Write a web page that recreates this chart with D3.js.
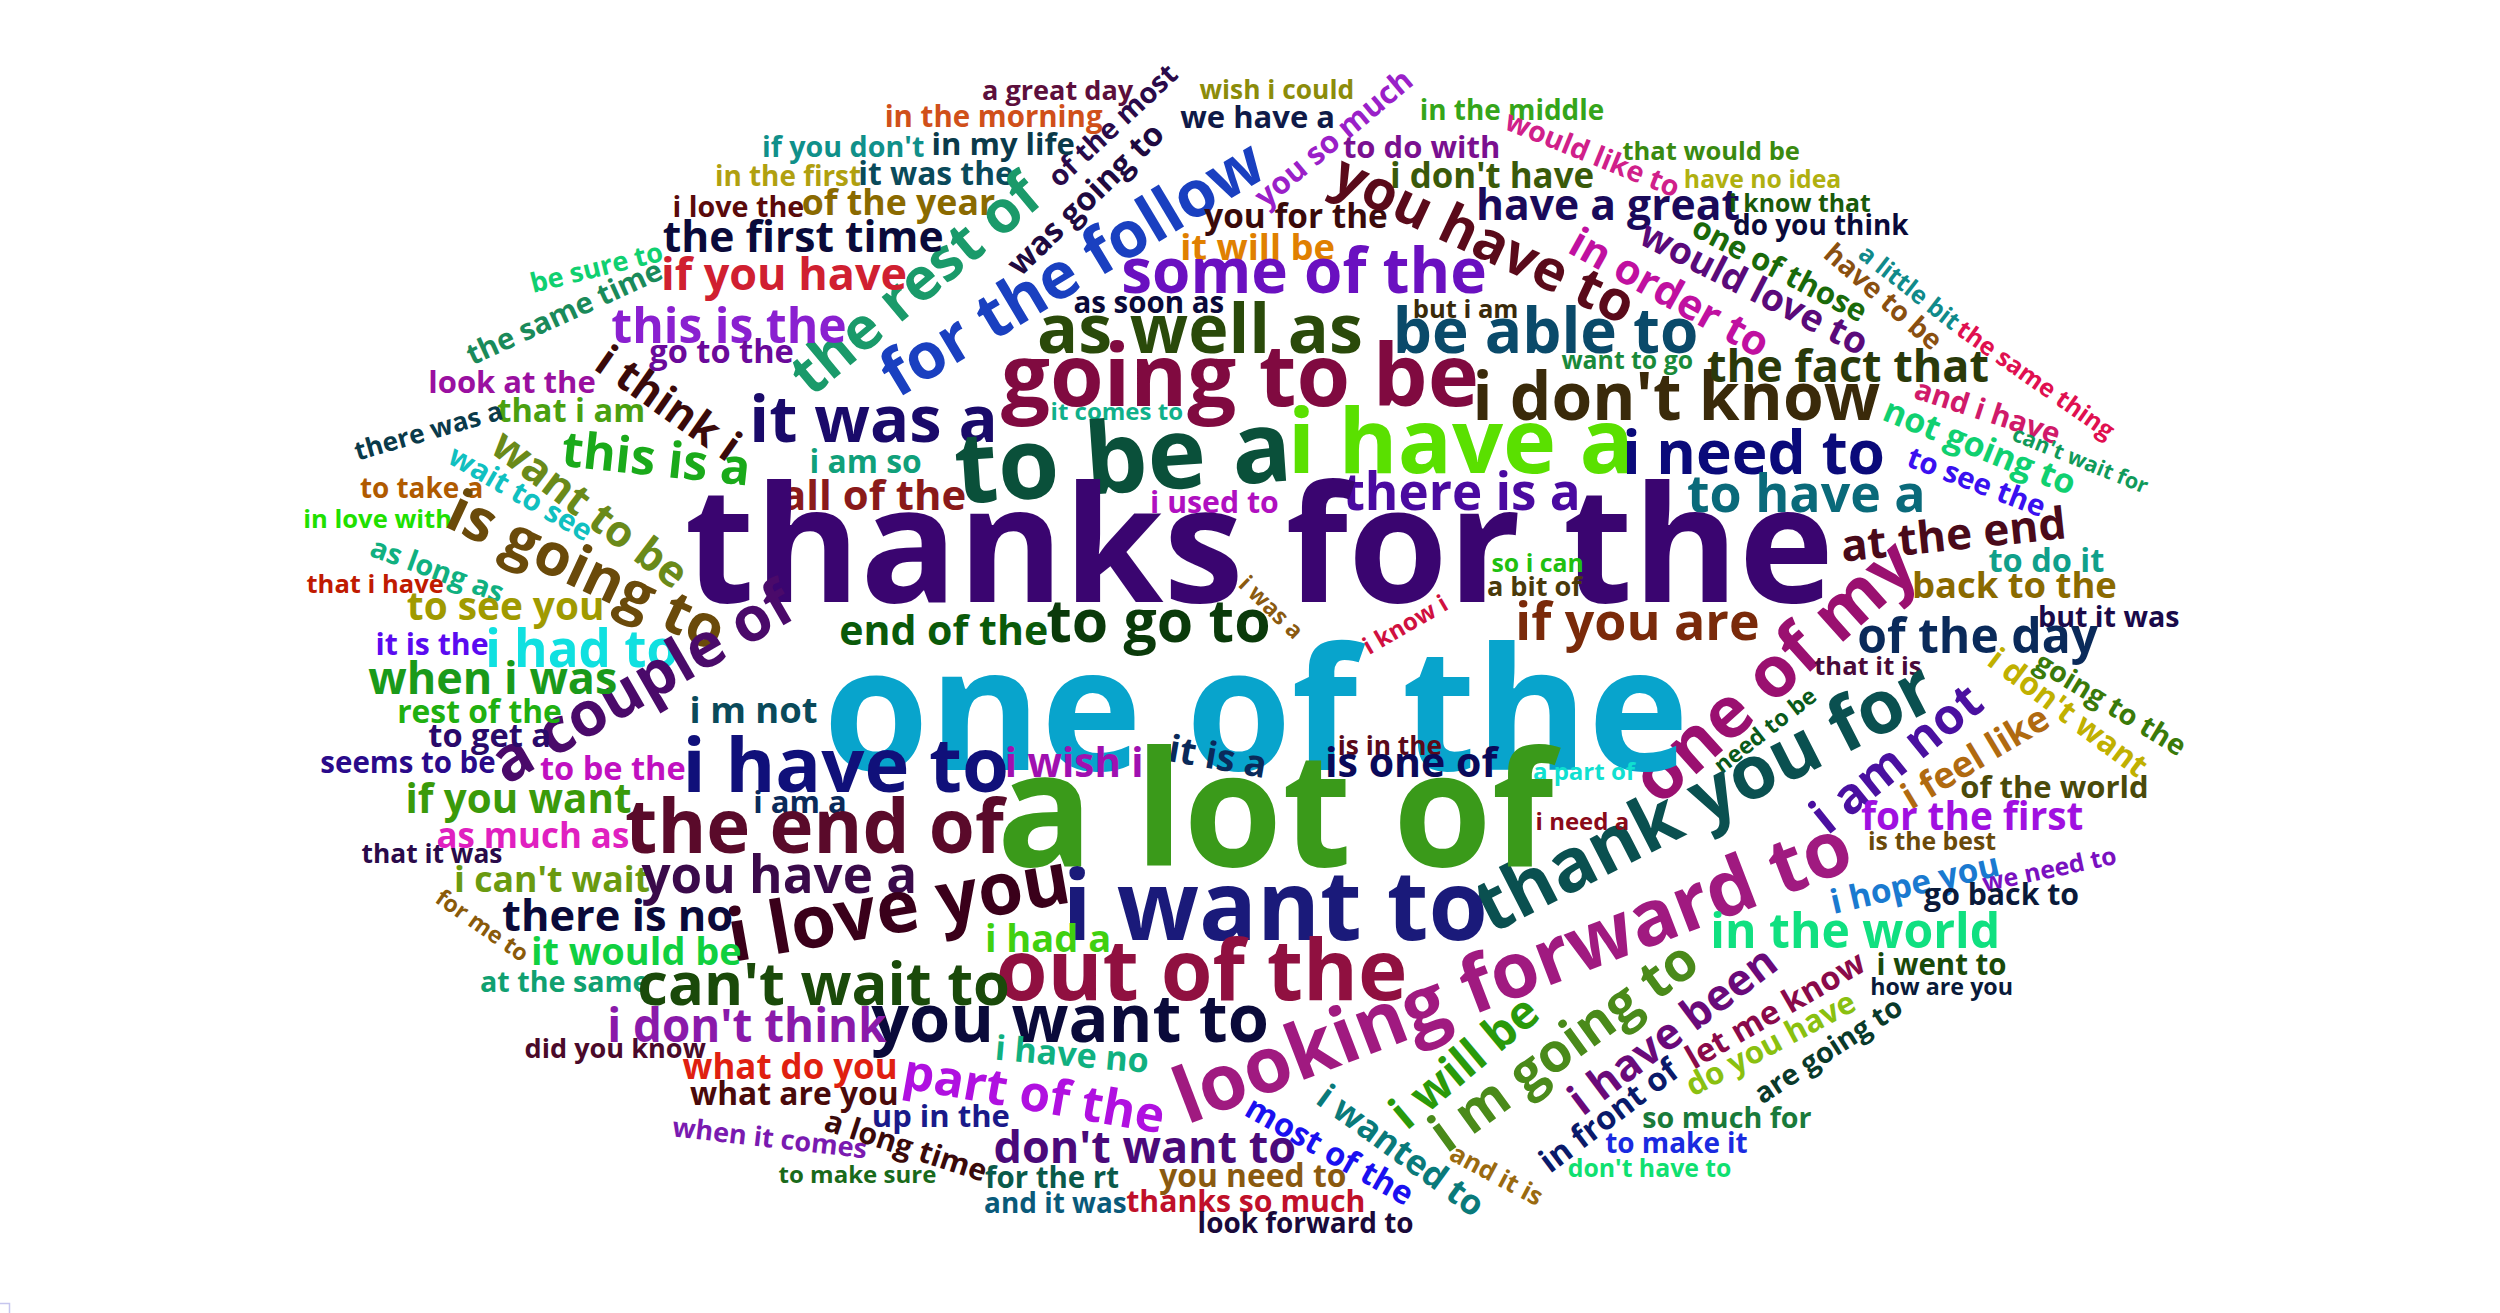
<!DOCTYPE html>
<html><head><meta charset="utf-8">
<script src="https://cdn.jsdelivr.net/npm/d3@7"></script>
<style>html,body{margin:0;padding:0;background:#fff;overflow:hidden}</style>
</head><body><svg id="c" width="2500" height="1313"></svg>
<script>
const words = [
"a great day","wish i could","in the middle","in the morning","we have a","of the most","you so much","if you don't","in my life","to do with",
"would like to","that would be","in the first","it was the","was going to","i don't have","have no idea","i love the","of the year","for the follow",
"the rest of","you for the","you have to","have a great","i know that","do you think","the first time","it will be","in order to","one of those",
"would love to","have to be","a little bit","the same thing","be sure to","if you have","some of the","the same time","as soon as","but i am",
"this is the","as well as","be able to","want to go","go to the","i think i","look at the","going to be","i don't know","the fact that",
"it comes to","that i am","there was a","and i have","not going to","can't wait for","it was a","to be a","i have a","i need to",
"i am so","this is a","want to be","wait to see","to see the","to take a","all of the","i used to","there is a","to have a",
"in love with","is going to","thanks for the","as long as","at the end","so i can","to do it","that i have","a bit of","i was a",
"back to the","i know i","to see you","one of my","but it was","if you are","end of the","to go to","of the day","it is the",
"i had to","a couple of","one of the","that it is","going to the","i don't want","when i was","need to be","thank you for","i am not",
"i m not","rest of the","i feel like","to get a","i have to","i wish i","it is a","is in the","is one of","seems to be",
"to be the","a part of","of the world","i am a","if you want","a lot of","i need a","for the first","is the best","as much as",
"the end of","that it was","i hope you","we need to","looking forward to","i can't wait","you have a","i love you","i want to","go back to",
"for me to","there is no","in the world","it would be","i had a","out of the","i will be","i m going to","i went to","at the same",
"can't wait to","how are you","i have been","let me know","you want to","i don't think","do you have","are going to","did you know","i have no",
"what do you","part of the","what are you","most of the","i wanted to","in front of","up in the","when it comes","so much for","a long time",
"and it is","don't want to","to make it","to make sure","for the rt","don't have to","you need to","and it was","thanks so much","look forward to"
];
const weights = [
17.5,17,18,19,20,18.5,20,18.5,20,20,
18.5,16.5,18,20.5,21,22.5,16,18.5,23,41.5,
38,21.5,36,27.5,16,18,27.5,23.5,27,20,
24,18,16,16,17.5,29,40,19,19,16.5,
31,44,40,16,21,28,20,56,42.5,29,
15.5,21,17,19,22,14,42,64,58,39,
20.5,32,28,19,19,18,27,19.5,33,33.5,
16.5,38,104,18.5,28.5,16,21,16.5,17.5,15,
23.5,15.5,25,46,18.5,33.5,26.5,38,31,19.5,
33,40,110,16.5,18.5,20.5,29,15,48,32,
23.5,20.5,23.5,21,49,26,24,17,26.5,19,
21,15.5,20,20,26,103,15.5,25,16,22.5,
48,17,21.5,16,50,23,33,47,62,19.5,
15,28,31,24.5,24.5,54,30,35,19,18.5,
38.5,15,28,21,43,29.5,20,18.5,17.5,22,
22.5,32,20.5,21,22.5,21,20,17.5,18.5,19.5,
16.5,29,18,15.5,19,16,20.5,18,19.5,18
];
const colors = [
"#5c0f3c","#8c8c0a","#35a51a","#d0501a","#0f1a48","#2a0a4a","#9a20c8","#10908a","#0a3a4a","#7a1090",
"#d0208a","#3a8a10","#b0a010","#0a4a5a","#200a40","#3a5a0a","#b0b010","#5a0a0a","#8a6a00","#1a40c0",
"#1a9a6a","#3a0a0a","#5a0a1a","#1a0a5a","#1a5a0a","#0a0a3a","#0a0a3a","#e08000","#c010a0","#1a6a0a",
"#5a0a7a","#8a5010","#108a8a","#e01050","#10d070","#d02030","#6a10c0","#1a8a5a","#0a0a3a","#3a2a0a",
"#8a20d0","#2a4a0a","#0a4a6a","#1a8a3a","#6a0a9a","#3a0a0a","#9a10a0","#800a40","#3a2a0a","#2a3a0a",
"#10b08a","#4aa010","#0a3a4a","#d01a6a","#10d070","#109a5a","#1a0a6a","#0a503a","#5ae000","#0a0a7a",
"#10a07a","#1aaa1a","#6a8a1a","#10c0c0","#3a10f0","#b05a00","#8a1a1a","#b010c0","#4a0aa0","#0a6a7a",
"#20e000","#6a4a0a","#3a0570","#10b080","#4a0a1a","#20c010","#10a08a","#c01a00","#4a3a0a","#8a5a10",
"#8a6a00","#d01040","#a09a00","#9a1070","#1a0a4a","#7a2a0a","#0a5a0a","#0a3a0a","#0a2a5a","#5a0af0",
"#10e0e0","#4a0a6a","#08a4cc","#4a0a3a","#3a7a0a","#c0b000","#1a9a1a","#0a5a1a","#0a5050","#4a10a0",
"#0a4a5a","#20b010","#b06a10","#2a0a6a","#10107a","#a010b0","#0a2a5a","#5a0a1a","#0a0a5a","#2a0a8a",
"#c010c0","#10e0d0","#4a4a0a","#0a2a5a","#3a9a0a","#3a9a1a","#8a0a1a","#a010e0","#6a4a0a","#e020c0",
"#5a0a2a","#2a0a4a","#1a7ad0","#7a10c0","#a01a80","#6a9a10","#3a0a4a","#3a001a","#1a1a7a","#0a1a3a",
"#8a5a0a","#0a0a3a","#10e080","#10d040","#40d010","#901040","#2a9a0a","#4a8a1a","#1a4a0a","#10a070",
"#1a4a0a","#0a1a3a","#6a0a7a","#8a0a4a","#0a0a3a","#8a1aaa","#8ac010","#0a3a2a","#4a0a2a","#10b080",
"#e02010","#b010e0","#4a0a0a","#1a10f0","#0a7a7a","#0a1a6a","#1a1a8a","#7a1ab0","#1a7a3a","#3a0a0a",
"#9a6a10","#4a0a7a","#1a2ae0","#1a6a1a","#0a5a4a","#10e070","#8a5a10","#0a5a7a","#c0102a","#1a0a3a"
];
// cloud layout (x, y, rotation) in cloud units
const layout = [
[661,57.4,0],[798,57,0],[945,70,0],[621,74,0],[786,74.4,0],[696,79,-43],[834,87,-40],[527,92.5,0],[627,91,0],[888.5,93,0],
[995,97,22],[1069.5,95.3,0],[492.5,111,0],[585,109.6,0],[679,125,-44],[932.5,111,0],[1101.6,113,0],[461.5,130,0],[561.5,127.6,0],[671,169,-31],
[573,179,-40],[810,136.4,0],[927,151,25],[1005,129.5,0],[1125,127.7,0],[1138,141.6,0],[502,149.3,0],[786,155.6,0],[1043,184,29],[1112,169,27.5],
[1096,181,27],[1176.5,186,41],[1193,180,38],[1272,238,35],[373,168,-14],[490,172.8,0],[815,171.8,0],[353,196,-24.5],[718,190.2,0],[916,194,0],
[455.6,205.6,0],[750,208,0],[966,209.2,0],[1017,226,0],[451,221,0],[417,253,35],[320,240,0],[775,237.6,0],[1047.7,250.2,0],[1155,230,0],
[698,258,0],[357,257.5,0],[268,270,-16],[1242,258,18],[1237,280,22],[1300,288,22],[546,264,0],[702,289,-4],[913,279,0],[1096,284.6,0],
[541,289.8,0],[410,288,6],[368,319,37],[325,309,30],[1235,302,21],[263.5,306.3,0],[546,311,0],[759,315,0],[913.5,309,0],[1129,310,0],
[236,325.4,0],[366,358,25],[787,346,0],[273,357,20],[1221,335.5,-6],[961,352.6,0],[1279,351.2,0],[234.5,366,0],[959,367.7,0],[794,380,44],
[1259,367,0],[878.6,391,-30],[316,380.3,0],[1110,421,-42],[1318,386.3,0],[1023.4,390.3,0],[589.8,395.3,0],[724,390,0],[1236,399.3,0],[270,403.7,0],
[363.5,407.4,0],[402,428,-30],[785,449,0],[1167.4,417.1,0],[1318.7,440.6,31.5],[1292,446,37],[308,425,0],[1103.6,457,-38],[1066,500,-27],[1186,475,-39],
[471,445,0],[299.7,446,0],[1235,474,-31],[306,460.6,0],[528.6,480.5,0],[671.4,477.8,0],[761,474,10],[868.7,467,0],[882,477.7,0],[255,477.8,0],
[383,481.5,0],[990,483,0],[1284,493.2,0],[500,502,0],[324,500.7,0],[797,511,0],[989,514.2,0],[1232.6,511.4,0],[1207.5,526.7,0],[333,523.5,0],
[509,519.3,0],[270,534.6,0],[1197,553,-13],[1281,544,-12],[946,609,-21],[345,550.6,0],[487,548.8,0],[562,569,-10],[797,569.5,0],[1251,560,0],
[301,579,35],[386,574,0],[1159.5,583.6,0],[397.7,595.9,0],[655,587.7,0],[751,609.2,0],[916,664.6,-40],[978,655,-36],[1213.5,603.8,0],[353,614.4,0],
[514.8,616.8,0],[1213.5,617.5,0],[1046,645,-37],[1110,632,-30],[668.8,638.5,0],[466.8,642.5,0],[1107,653,-28],[1143,657,-33],[384.5,656.4,0],[670,660,5],
[493.8,667.5,0],[646,685,10],[496.4,684.7,0],[830.6,720,29.5],[875,720,36],[1006,698,-37],[588,698.3,0],[481,712,6.5],[1079.3,699.8,0],[566,717,18],
[935,735,28],[715.5,718.5,0],[1047.8,715.5,0],[535.9,735,0],[657.5,737.2,0],[1031,730.7,0],[783,735.8,0],[659.6,753,0],[778.6,751.7,0],[816,765.5,0]
];

const W = 2500, H = 1313;
const svg = d3.select("#c");
const x = d3.scaleLinear().domain([0, 1562.5]).range([0, W]);
const y = d3.scaleLinear().domain([0, 820.6]).range([0, H]);
const size = d3.scaleLinear().domain([0, 100]).range([0, 155]);

const data = words.map((w, i) => ({
  text: w, weight: weights[i], color: colors[i],
  cx: layout[i][0], cy: layout[i][1], rot: layout[i][2]
}));

svg.append("g").selectAll("text").data(data).join("text")
  .attr("text-anchor", "middle")
  .attr("dy", "0.3em")
  .attr("transform", d => `translate(${x(d.cx)},${y(d.cy)}) rotate(${d.rot})`)
  .style("font-family", "'Open Sans', 'Noto Sans', sans-serif")
  .style("font-weight", 700)
  .style("font-size", d => size(d.weight) + "px")
  .style("fill", d => d.color)
  .text(d => d.text);

svg.append("path").attr("d", "M0,1303.5H9.5V1313").attr("fill", "none").attr("stroke", "#c6c6ee").attr("stroke-width", 1.5);
</script>
</body></html>
